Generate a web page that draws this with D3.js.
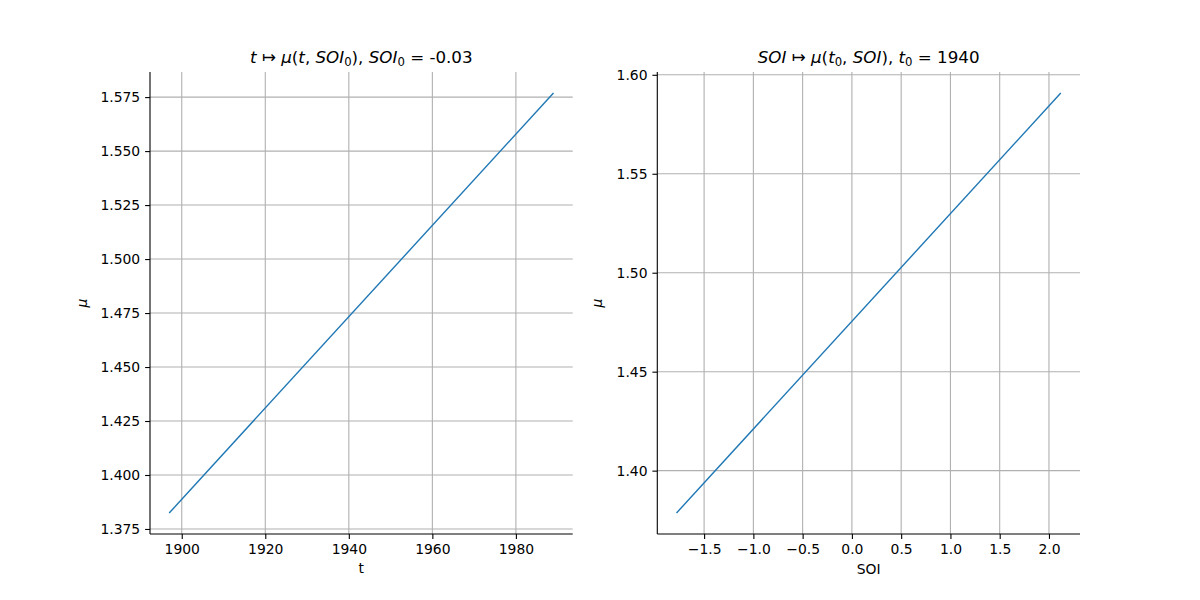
<!DOCTYPE html>
<html>
<head>
<meta charset="utf-8">
<script src="https://cdn.jsdelivr.net/npm/d3@7"></script>
<style>
  body { margin: 0; background: #fff; }
  svg text { font-family: "DejaVu Sans", sans-serif; fill: #000; }
  .grid line { stroke: #b0b0b0; stroke-width: 1.1px; }
</style>
</head>
<body>
<svg id="chart" width="1200" height="600"></svg>
<script>
// mu along time, at SOI0 = -0.03
const years = [1897, 1989];
const muByYear = [1.3824, 1.5769];
const yearTicks = [1900, 1920, 1940, 1960, 1980];
const muTicksLeft = [1.375, 1.400, 1.425, 1.450, 1.475, 1.500, 1.525, 1.550, 1.575];

// mu along SOI, at t0 = 1940
const soi = [-1.78, 2.12];
const muBySoi = [1.3786, 1.5908];
const soiTicks = [-1.5, -1.0, -0.5, 0.0, 0.5, 1.0, 1.5, 2.0];
const muTicksRight = [1.40, 1.45, 1.50, 1.55, 1.60];

const svg = d3.select("#chart");
const axTop = 72, axBottom = 534;

// matplotlib style auto limits: 5% padding
function padded(vals) {
  const [a, b] = d3.extent(vals), m = (b - a) * 0.05;
  return [a - m, b + m];
}

function panel(opts) {
  const x = d3.scaleLinear().domain(padded(opts.xs)).range([opts.left, opts.right]);
  const y = d3.scaleLinear().domain(padded(opts.ys)).range([axBottom, axTop]);
  const g = svg.append("g");

  // grid
  const grid = g.append("g").attr("class", "grid");
  grid.selectAll(".gx").data(opts.xTicks).join("line").attr("class", "gx")
    .attr("x1", d => x(d)).attr("x2", d => x(d)).attr("y1", axTop).attr("y2", axBottom);
  grid.selectAll(".gy").data(opts.yTicks).join("line").attr("class", "gy")
    .attr("y1", d => y(d)).attr("y2", d => y(d)).attr("x1", opts.left).attr("x2", opts.right);

  // line
  g.append("path")
    .datum(opts.xs.map((v, i) => [v, opts.ys[i]]))
    .attr("fill", "none").attr("stroke", "#1f77b4").attr("stroke-width", 1.4)
    .attr("d", d3.line().x(d => x(d[0])).y(d => y(d[1])));

  // axes
  const xa = g.append("g").attr("transform", `translate(0,${axBottom})`)
    .call(d3.axisBottom(x).tickValues(opts.xTicks).tickFormat(opts.xFmt).tickSize(4.9).tickPadding(4.9));
  const ya = g.append("g").attr("transform", `translate(${opts.left},0)`)
    .call(d3.axisLeft(y).tickValues(opts.yTicks).tickFormat(opts.yFmt).tickSize(4.9).tickPadding(4.9));
  [xa, ya].forEach(a => {
    a.select(".domain").attr("stroke", "#000").attr("stroke-width", 1.1);
    a.selectAll(".tick line").attr("stroke", "#000").attr("stroke-width", 1.1);
    a.selectAll(".tick text").attr("font-family", "DejaVu Sans").attr("font-size", 13.9);
  });
  ya.select(".domain").attr("d", `M0,${axTop}V${axBottom}`);
  xa.select(".domain").attr("d", `M${opts.left},0H${opts.right}`);

  // labels
  g.append("text").attr("x", (opts.left + opts.right) / 2).attr("y", opts.xLabelY)
    .attr("text-anchor", "middle").attr("font-size", 13.9).text(opts.xLabel);
  g.append("text").attr("transform", `translate(${opts.left - opts.yLabelOff},${(axTop + axBottom) / 2}) rotate(-90)`)
    .attr("text-anchor", "middle").attr("font-size", 13.9).attr("font-style", "italic").text("μ");

  // title made of pieces: [text, italic, subscript]
  const title = g.append("text").attr("x", (opts.left + opts.right) / 2).attr("y", 63)
    .attr("text-anchor", "middle").attr("font-size", 16.7);
  let wasSub = false;
  opts.title.forEach(([t, it, sub]) => {
    const s = title.append("tspan").text(t);
    if (it) s.attr("font-style", "italic");
    if (sub) s.attr("font-size", 11.7).attr("dy", 3);
    else if (wasSub) s.attr("dy", -3);
    wasSub = !!sub;
  });
}

panel({
  left: 150, right: 572.7, xs: years, ys: muByYear,
  xTicks: yearTicks, yTicks: muTicksLeft,
  xFmt: d3.format("d"), yFmt: d3.format(".3f"),
  xLabel: "t", xLabelY: 573, yLabelOff: 63,
  title: [["t", 1], [" ↦ "], ["μ", 1], ["("], ["t", 1], [", "], ["SOI", 1], ["0", 0, 1], ["), "], ["SOI", 1], ["0", 0, 1], [" = -0.03"]]
});

panel({
  left: 657.3, right: 1080, xs: soi, ys: muBySoi,
  xTicks: soiTicks, yTicks: muTicksRight,
  xFmt: d3.format(".1f"), yFmt: d3.format(".2f"),
  xLabel: "SOI", xLabelY: 574, yLabelOff: 55,
  title: [["SOI", 1], [" ↦ "], ["μ", 1], ["("], ["t", 1], ["0", 0, 1], [", "], ["SOI", 1], ["), "], ["t", 1], ["0", 0, 1], [" = 1940"]]
});
</script>
</body>
</html>
